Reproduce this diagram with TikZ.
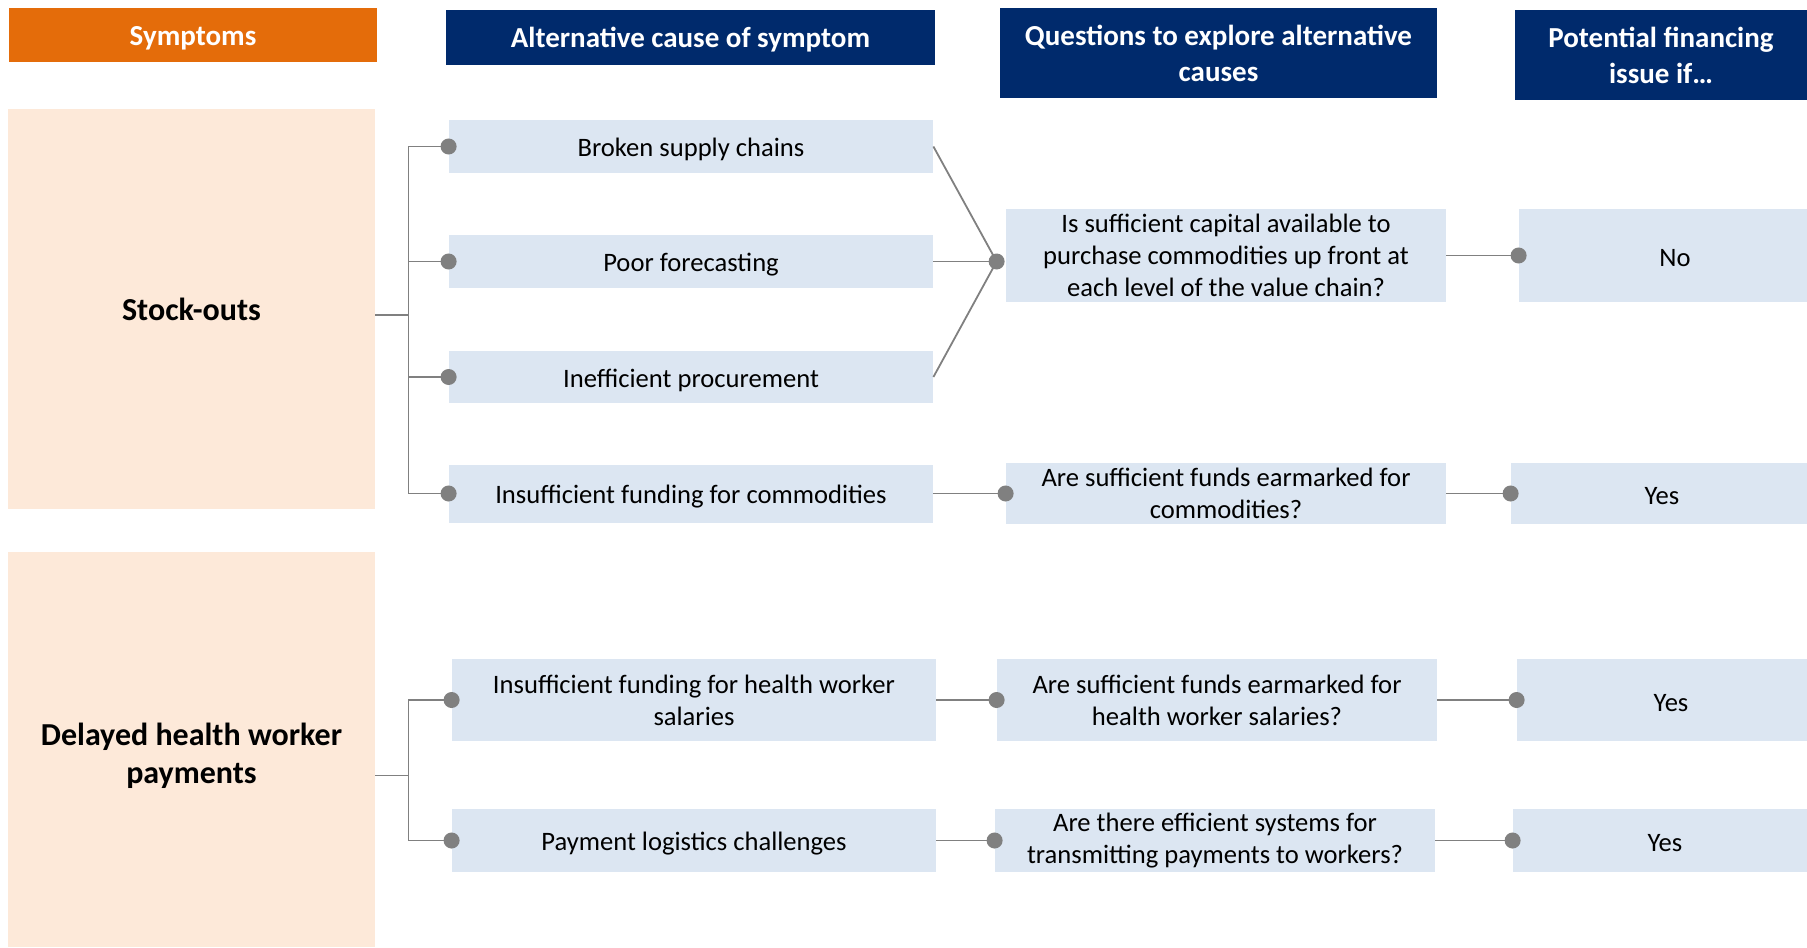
\documentclass[tikz,border=0pt]{standalone}
\usepackage{fontspec}
\setmainfont{Carlito}
\usetikzlibrary{arrows.meta}
\usetikzlibrary{calc}

\definecolor{symorange}{HTML}{E46C0A}
\definecolor{navy}{HTML}{002A6C}
\definecolor{peach}{HTML}{FDE9D9}
\definecolor{paleblue}{HTML}{DCE6F2}
\definecolor{linegray}{HTML}{808080}

\begin{document}
\begin{tikzpicture}[
      x=0.5pt, y=-0.5pt,
      head/.style={fill=navy, text=white, font=\fontsize{14.5}{18}\selectfont\bfseries, align=center, inner sep=0pt},
      symbox/.style={fill=peach, font=\fontsize{16}{19}\selectfont\bfseries, align=center, minimum width=183.5pt, inner sep=0pt},
      cell/.style={fill=paleblue, font=\fontsize{13.3}{16}\selectfont, align=center, inner sep=0pt},
      oneline/.style={execute at begin node={\rule{0pt}{#1}}},
      oneline/.default=12.2pt,
      conn/.style={draw=linegray, line width=0.9pt},
      dotend/.style={conn, -{Circle[length=8pt]}, shorten >=-4pt},
    ]
        \clip (0,0) rectangle (1807,947);

        % column heads
        \node[head, oneline=12.7pt, fill=symorange, minimum width=184pt, minimum height=27pt] (hsym) at (193,35) {Symptoms};
        \node[head, oneline=12.7pt, minimum width=244.5pt, minimum height=27.5pt] (hcause) at (690.5,37.5) {Alternative cause of symptom};
        \node[head, minimum width=218.5pt, minimum height=45pt] (hquest) at (1218.5,53) {Questions to explore alternative\\causes};
        \node[head, minimum width=146pt, minimum height=45pt] (hfin) at (1661,55) {Potential financing\\issue if…};

        % symptoms
        \node[symbox, minimum height=200pt] (so) at (191.5,309) {Stock-outs};
        \node[symbox, text width=175pt, align=flush center, oneline=17.2pt, minimum height=197.5pt] (dl) at (191.5,749.5) {Delayed health worker\\payments};

        % alternative causes
        \node[cell, oneline, minimum width=242pt, minimum height=26.5pt] (c1) at (691,146.5) {Broken supply chains};
        \node[cell, oneline, minimum width=242pt, minimum height=26.5pt] (c2) at (691,261.5) {Poor forecasting};
        \node[cell, oneline, minimum width=242pt, minimum height=26pt] (c3) at (691,377) {Inefficient procurement};
        \node[cell, oneline, minimum width=242pt, minimum height=29pt] (c4) at (691,493.5) {Insufficient funding for commodities};
        \node[cell, minimum width=242pt, minimum height=41pt] (c5) at (694,700) {Insufficient funding for health worker\\salaries};
        \node[cell, oneline, minimum width=242pt, minimum height=31.5pt] (c6) at (694,840.5) {Payment logistics challenges};

        % questions
        \node[cell, minimum width=220pt, minimum height=46.5pt] (q1) at (1226,255.5) {Is sufficient capital available to\\purchase commodities up front at\\each level of the value chain?};
        \node[cell, minimum width=220pt, minimum height=30.5pt] (q2) at (1226,493.5) {Are sufficient funds earmarked for\\commodities?};
        \node[cell, minimum width=220pt, minimum height=41pt] (q3) at (1217,700) {Are sufficient funds earmarked for\\health worker salaries?};
        \node[cell, minimum width=220pt, minimum height=31.5pt] (q4) at (1215,840.5) {Are there efficient systems for\\transmitting payments to workers?};

        % financing issue
        \node[cell, oneline=11.2pt, minimum width=156pt, minimum height=46.5pt] (a1) at (1675,255.5) {No};
        \node[cell, oneline=11.2pt, minimum width=151pt, minimum height=30.5pt] (a2) at (1662,493.5) {Yes};
        \node[cell, oneline=11.2pt, minimum width=154pt, minimum height=41pt] (a3) at (1671,700) {Yes};
        \node[cell, oneline=11.2pt, minimum width=152pt, minimum height=31.5pt] (a4) at (1665,840.5) {Yes};

        % symptom trees
        \foreach \c in {c1,c2,c3,c4}
            \draw[dotend] ([yshift=-3pt]so.east) -- ++(33,0) |- (\c.west);
        \foreach \c in {c5,c6}
            \draw[dotend] ([yshift=-13pt]dl.east) -- ++(33,0) |- (\c.west);

        % causes to questions
        \coordinate (j1) at ($(q1.west |- c2.east)+(-9,0)$);
        \foreach \c in {c1,c2,c3}
            \draw[conn] (\c.east) -- (j1);
        \fill[linegray] (j1) circle (4pt);
        \draw[dotend] (c4.east) -- (q2.west);
        \draw[dotend] (c5.east) -- (q3.west);
        \draw[dotend] (c6.east) -- (q4.west);

        % questions to answers
        \draw[dotend] (q1.east) -- (a1.west);
        \draw[dotend] (q2.east) -- (a2.west);
        \draw[dotend] (q3.east) -- (a3.west);
        \draw[dotend] (q4.east) -- (a4.west);
    \end{tikzpicture}
\end{document}
